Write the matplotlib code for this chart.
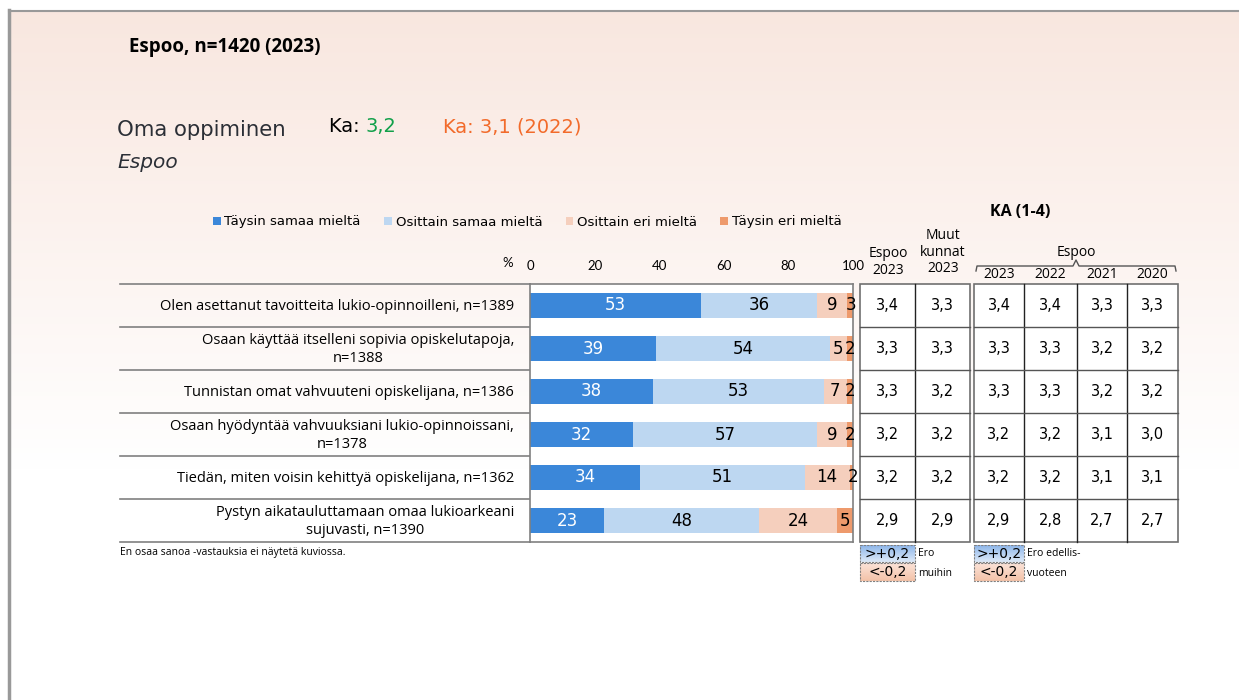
import numpy as np
import matplotlib
matplotlib.use("Agg")
import matplotlib.pyplot as plt
from matplotlib.patches import Rectangle
from matplotlib.lines import Line2D

# ---------------- data ----------------
statements = [
    "Olen asettanut tavoitteita lukio-opinnoilleni, n=1389",
    "Osaan käyttää itselleni sopivia opiskelutapoja,\nn=1388",
    "Tunnistan omat vahvuuteni opiskelijana, n=1386",
    "Osaan hyödyntää vahvuuksiani lukio-opinnoissani,\nn=1378",
    "Tiedän, miten voisin kehittyä opiskelijana, n=1362",
    "Pystyn aikatauluttamaan omaa lukioarkeani\nsujuvasti, n=1390",
]
series_names = ["Täysin samaa mieltä", "Osittain samaa mieltä",
                "Osittain eri mieltä", "Täysin eri mieltä"]
taysin_samaa = [53, 39, 38, 32, 34, 23]
osittain_samaa = [36, 54, 53, 57, 51, 48]
osittain_eri = [9, 5, 7, 9, 14, 24]
taysin_eri = [3, 2, 2, 2, 2, 5]
x_ticks = [0, 20, 40, 60, 80, 100]

ka_espoo_2023 = ["3,4", "3,3", "3,3", "3,2", "3,2", "2,9"]
ka_muut_2023 = ["3,3", "3,3", "3,2", "3,2", "3,2", "2,9"]
ka_years = ["2023", "2022", "2021", "2020"]
ka_2023 = ["3,4", "3,3", "3,3", "3,2", "3,2", "2,9"]
ka_2022 = ["3,4", "3,3", "3,3", "3,2", "3,2", "2,8"]
ka_2021 = ["3,3", "3,2", "3,2", "3,1", "3,1", "2,7"]
ka_2020 = ["3,3", "3,2", "3,2", "3,0", "3,1", "2,7"]

colors = ["#3b87d9", "#bdd7f1", "#f5cfbd", "#ee9a6c"]
text_colors = ["white", "black", "black", "black"]

W, H = 1239, 700
fig = plt.figure(figsize=(W / 100, H / 100), dpi=100)
fig.patch.set_facecolor("white")

# pixel-coordinate background axes
bg = fig.add_axes([0, 0, 1, 1])
bg.set_xlim(0, W)
bg.set_ylim(H, 0)
bg.axis("off")

# gradient background of the slide
grad = np.linspace(0, 1, 256)[:, None]
top = np.array([0.975, 0.905, 0.875])
bot = np.array([1.0, 1.0, 1.0])
t = np.clip(grad / 0.75, 0, 1)
img = top[None, None, :] * (1 - t[..., None]) + bot[None, None, :] * t[..., None]
img = np.repeat(img, 2, axis=1)
bg.imshow(img, extent=(9, W, 620, 10), aspect="auto", zorder=0)
bg.add_line(Line2D([9, 9], [10, H], color="#999999", lw=2.5, zorder=5))
bg.add_line(Line2D([9, W], [10.5, 10.5], color="#999999", lw=1.5, zorder=5))

# titles
bg.text(129, 47, "Espoo, n=1420 (2023)", fontsize=13.5, fontweight="bold",
        family=["Open Sans", "DejaVu Sans"], va="center", ha="left")
bg.text(117, 130, "Oma oppiminen", fontsize=15.3, color="#2b2f36",
        family="DejaVu Sans", va="center", ha="left")
ka_txt = bg.text(329, 127, "Ka: ", fontsize=14, color="black", family="DejaVu Sans",
                 va="center", ha="left")
bg.annotate("3,2", xy=(1, 0.5), xycoords=ka_txt, fontsize=14, color="#11a04a",
            family="DejaVu Sans", va="center", ha="left")
bg.text(443, 127, "Ka: 3,1 (2022)", fontsize=14, color="#f26b2b",
        family="DejaVu Sans", va="center", ha="left")
bg.text(117, 163, "Espoo", fontsize=14.5, style="italic", color="#2b2f36",
        family="DejaVu Sans", va="center", ha="left")

# ---------------- bar chart ----------------
bx0, bx1, by0, by1 = 530, 853, 284, 542
ax = fig.add_axes([bx0 / W, 1 - by1 / H, (bx1 - bx0) / W, (by1 - by0) / H])
ax.set_facecolor("white")
n = len(statements)
y = np.arange(n)
left = np.zeros(n)
handles = []
for vals, c, tc, name in zip([taysin_samaa, osittain_samaa, osittain_eri, taysin_eri],
                             colors, text_colors, series_names):
    vals = np.array(vals, dtype=float)
    h = ax.barh(y, vals, left=left, height=0.6, color=c, label=name, zorder=2)
    handles.append(h)
    for yi, (l, v) in enumerate(zip(left, vals)):
        ax.text(l + v / 2, yi, f"{int(v)}", ha="center", va="center",
                color=tc, fontsize=12, family="DejaVu Sans", zorder=3)
    left += vals
ax.set_xlim(0, 100)
ax.set_ylim(n - 0.5, -0.5)
ax.set_yticks([])
ax.xaxis.tick_top()
ax.set_xticks(x_ticks)
ax.set_xticklabels([str(v) for v in x_ticks], family=["Lato", "DejaVu Sans"],
                   fontsize=9.5)
ax.tick_params(axis="x", length=0, pad=9)
for s in ax.spines.values():
    s.set_color("#808080")
    s.set_linewidth(1.2)

bg.text(513, 263, "%", fontsize=9.5, ha="right", va="center",
        family=["Lato", "DejaVu Sans"])

# legend
leg = fig.legend(handles=handles, loc="center left",
                 bbox_to_anchor=(206 / W, 1 - 222 / H), ncol=4, frameon=False,
                 prop={"family": "DejaVu Sans", "size": 9.5},
                 handlelength=0.6, handleheight=0.6, handletextpad=0.3,
                 columnspacing=1.75, borderpad=0)

# row labels and separator lines
row_h = (by1 - by0) / n
for i, s in enumerate(statements):
    yc = by0 + row_h * (i + 0.5)
    bg.text(514, yc + 1, s, ha="right", va="center", multialignment="center",
            fontsize=10.5, family=["Open Sans", "DejaVu Sans"], linespacing=1.2)
for i in range(n + 1):
    yy = by0 + row_h * i
    bg.add_line(Line2D([120, bx0], [yy, yy], color="#808080", lw=1.2, zorder=4))

bg.text(120, 553, "En osaa sanoa -vastauksia ei näytetä kuviossa.", fontsize=7.5,
        family=["Open Sans", "DejaVu Sans"], ha="left", va="center")

# ---------------- KA tables ----------------
def draw_table(x_edges, columns):
    bg.add_patch(Rectangle((x_edges[0], by0), x_edges[-1] - x_edges[0], by1 - by0,
                           facecolor="white", edgecolor="#707070", lw=1.2, zorder=2))
    for xe in x_edges[1:-1]:
        bg.add_line(Line2D([xe, xe], [by0, by1], color="#222222", lw=1.0, zorder=3))
    for i in range(1, n):
        yy = by0 + row_h * i
        bg.add_line(Line2D([x_edges[0], x_edges[-1]], [yy, yy], color="#555555",
                           lw=1.0, zorder=3))
    for j, col in enumerate(columns):
        xc = (x_edges[j] + x_edges[j + 1]) / 2
        for i, v in enumerate(col):
            yc = by0 + row_h * (i + 0.5)
            bg.text(xc, yc, v, ha="center", va="center", fontsize=10.5,
                    family="DejaVu Sans", zorder=4)

t1 = [860, 915, 970]
t2 = [974, 1024, 1077, 1127, 1178]
draw_table(t1, [ka_espoo_2023, ka_muut_2023])
draw_table(t2, [ka_2023, ka_2022, ka_2021, ka_2020])

hdr = dict(fontsize=10, family=["Open Sans", "DejaVu Sans"], ha="center", va="center")
bg.text(888, 262, "Espoo\n2023", linespacing=1.15, **hdr)
bg.text(943, 252, "Muut\nkunnat\n2023", linespacing=1.15, **hdr)
for j, yr in enumerate(ka_years):
    bg.text((t2[j] + t2[j + 1]) / 2, 274, yr, **hdr)
bg.text(1076, 252, "Espoo", **hdr)
bg.text(1020, 212, "KA (1-4)", fontsize=11.5, fontweight="bold",
        family=["Open Sans", "DejaVu Sans"], ha="center", va="center")
# brace
bc = "#555555"
bg.plot([976, 977, 1073, 1076, 1079, 1175, 1176],
        [271, 266, 266, 260, 266, 266, 271], color=bc, lw=1.0, zorder=4)

# ---------------- difference legend ----------------
def grad_box(x0, x1, y0, y1, c_top, c_bot, label):
    g = np.linspace(0, 1, 32)[:, None, None]
    ct, cb = np.array(matplotlib.colors.to_rgb(c_top)), np.array(matplotlib.colors.to_rgb(c_bot))
    im = ct[None, None, :] * (1 - g) + cb[None, None, :] * g
    im = np.repeat(im, 2, axis=1)
    bg.imshow(im, extent=(x0, x1, y1, y0), aspect="auto", zorder=3)
    bg.add_patch(Rectangle((x0, y0), x1 - x0, y1 - y0, fill=False, edgecolor="#808080",
                           lw=0.8, ls=(0, (2, 1)), zorder=4))
    bg.text((x0 + x1) / 2, (y0 + y1) / 2 + 0.5, label, ha="center", va="center",
            fontsize=10, family="DejaVu Sans", zorder=5)

for (x0, x1), words in [((860, 915), ("Ero", "muihin")),
                        ((974, 1024), ("Ero edellis-", "vuoteen"))]:
    grad_box(x0, x1, 545, 562, "#8db6ea", "#dde9f8", ">+0,2")
    grad_box(x0, x1, 563, 581, "#fbe3d8", "#f3c2a8", "<-0,2")
    bg.text(x1 + 3, 554, words[0], fontsize=7.5, family=["Open Sans", "DejaVu Sans"],
            ha="left", va="center")
    bg.text(x1 + 3, 573, words[1], fontsize=7.5, family=["Open Sans", "DejaVu Sans"],
            ha="left", va="center")

fig.savefig("out.png", dpi=100, facecolor="white")
